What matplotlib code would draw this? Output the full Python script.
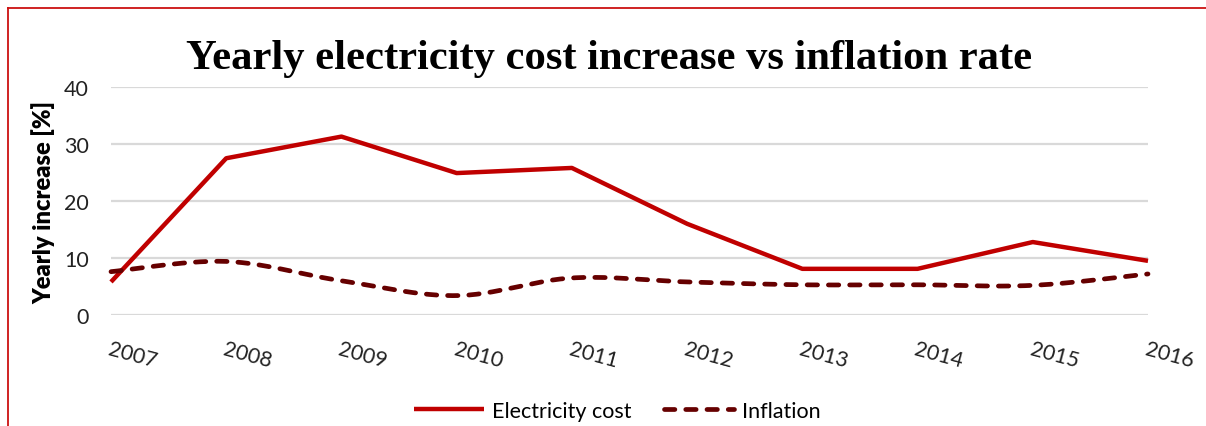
import numpy as np
import matplotlib
matplotlib.use("Agg")
import matplotlib.pyplot as plt
from matplotlib.lines import Line2D

years = ["2007", "2008", "2009", "2010", "2011", "2012", "2013", "2014", "2015", "2016"]
electricity = [5.8, 27.5, 31.3, 24.9, 25.8, 16.0, 8.1, 8.1, 12.8, 9.5]
inflation = [7.6, 9.4, 6.0, 3.4, 6.5, 5.8, 5.3, 5.3, 5.2, 7.2]
yticks = [0, 10, 20, 30, 40]

FONT = ["Lato", "DejaVu Sans"]


def smooth(xs, ys, n=30):
    # Catmull-Rom style smoothing (as Excel smoothed lines)
    xs = np.asarray(xs, float)
    ys = np.asarray(ys, float)
    px = np.concatenate([[xs[0]], xs, [xs[-1]]])
    py = np.concatenate([[ys[0]], ys, [ys[-1]]])
    ox, oy = [], []
    t = np.linspace(0, 1, n)
    for i in range(1, len(px) - 2):
        p0x, p1x, p2x, p3x = px[i - 1], px[i], px[i + 1], px[i + 2]
        p0y, p1y, p2y, p3y = py[i - 1], py[i], py[i + 1], py[i + 2]
        c1x = p1x + (p2x - p0x) / 6
        c1y = p1y + (p2y - p0y) / 6
        c2x = p2x - (p3x - p1x) / 6
        c2y = p2y - (p3y - p1y) / 6
        bx = (1 - t) ** 3 * p1x + 3 * (1 - t) ** 2 * t * c1x + 3 * (1 - t) * t ** 2 * c2x + t ** 3 * p2x
        by = (1 - t) ** 3 * p1y + 3 * (1 - t) ** 2 * t * c1y + 3 * (1 - t) * t ** 2 * c2y + t ** 3 * p2y
        ox.extend(bx if i == 1 else bx[1:])
        oy.extend(by if i == 1 else by[1:])
    return np.array(ox), np.array(oy)


fig = plt.figure(figsize=(12.06, 4.27), dpi=100)
ax = fig.add_axes([111 / 1206, 111 / 427, (1148 - 111) / 1206, (316 - 88) / 427])

x = np.arange(len(years))
ax.plot(x, electricity, color="#c00000", lw=3.2, solid_capstyle="butt", clip_on=False,
        label="Electricity cost", zorder=3)
sx, sy = smooth(x, inflation)
ax.plot(sx, sy, color="#660000", lw=3.4, linestyle=(0, (2.2, 2.3)), dash_capstyle="round",
        clip_on=False, label="Inflation", zorder=3)

ax.set_xlim(0, len(years) - 1)
ax.set_ylim(0, 40)
ax.set_yticks(yticks)
ax.set_yticklabels([str(v) for v in yticks], fontsize=15.5, family=FONT, color="#222222")
ax.set_xticks(x)
ax.set_xticklabels(years, fontsize=15.5, family=FONT, color="#222222", rotation=-15,
                   ha="left", va="top", rotation_mode="anchor")
ax.tick_params(axis="both", length=0)
ax.tick_params(axis="x", pad=17)
ax.tick_params(axis="y", pad=16)
ax.grid(axis="y", color="#d9d9d9", lw=1.6)
ax.set_axisbelow(True)
for s in ax.spines.values():
    s.set_visible(False)

ax.set_ylabel("Yearly increase [%]", fontsize=17, fontweight="heavy", family=FONT, labelpad=6)

fig.text(0.505, 1 - 59 / 427, "Yearly electricity cost increase vs inflation rate",
         ha="center", va="center", fontsize=30.7, fontweight="bold", family="Liberation Serif")

leg = fig.legend(loc="center", bbox_to_anchor=(0.512, 1 - 412 / 427), ncol=2, frameon=False,
                 prop={"family": FONT, "size": 15.5}, handlelength=3.25, handletextpad=0.37,
                 columnspacing=1.5)

# red frame (left and top borders)
fig.add_artist(Line2D([8 / 1206, 8 / 1206], [0, 1 - 9 / 427], transform=fig.transFigure,
                      color="#cc1111", lw=1.3))
fig.add_artist(Line2D([8 / 1206, 1], [1 - 9 / 427, 1 - 9 / 427], transform=fig.transFigure,
                      color="#cc1111", lw=1.3))

fig.savefig("out.png", dpi=100)
